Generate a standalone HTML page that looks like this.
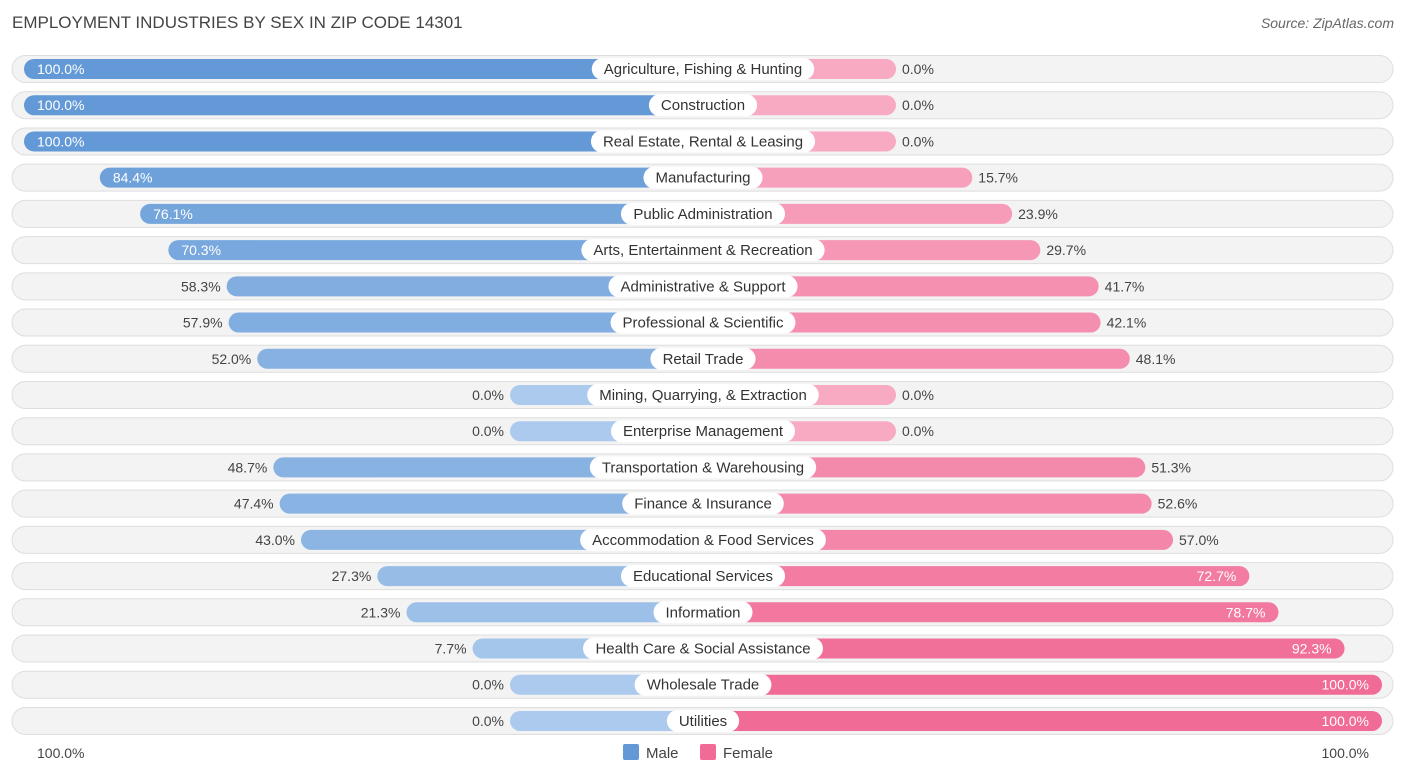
<!DOCTYPE html>
<html><head><meta charset="utf-8"><style>
body{margin:0;background:#fff;font-family:"Liberation Sans",sans-serif;}
svg text{font-family:"Liberation Sans",sans-serif;}
</style></head><body>
<svg id="chart" width="1406" height="776">
<text x="12" y="28" font-size="17" fill="#444">EMPLOYMENT INDUSTRIES BY SEX IN ZIP CODE 14301</text>
<text x="1394" y="28" font-size="14" fill="#666" font-style="italic" text-anchor="end">Source: ZipAtlas.com</text>
<g id="rows"></g>
<text x="37" y="758" font-size="14" fill="#444">100.0%</text>
<text x="1369" y="758" font-size="14" fill="#444" text-anchor="end">100.0%</text>
<rect x="623" y="744" width="16" height="16" rx="2" fill="#6399d6"/>
<text x="646" y="758" font-size="15" fill="#444">Male</text>
<rect x="700" y="744" width="16" height="16" rx="2" fill="#f06b95"/>
<text x="723" y="758" font-size="15" fill="#444">Female</text>
</svg>
<script>
const categories=["Agriculture, Fishing & Hunting","Construction","Real Estate, Rental & Leasing","Manufacturing","Public Administration","Arts, Entertainment & Recreation","Administrative & Support","Professional & Scientific","Retail Trade","Mining, Quarrying, & Extraction","Enterprise Management","Transportation & Warehousing","Finance & Insurance","Accommodation & Food Services","Educational Services","Information","Health Care & Social Assistance","Wholesale Trade","Utilities"];
const maleValues=[100,100,100,84.4,76.1,70.3,58.3,57.9,52.0,0,0,48.7,47.4,43.0,27.3,21.3,7.7,0,0];
const femaleValues=[0,0,0,15.7,23.9,29.7,41.7,42.1,48.1,0,0,51.3,52.6,57.0,72.7,78.7,92.3,100,100];
const NS="http://www.w3.org/2000/svg";
const cx=703, base=193, k=4.86, y0=69, dy=36.22;
function len(v){return base+v*k;}
function rowY(i){return y0+i*dy;}
function mix(a,b,t){return 'rgb('+a.map((x,j)=>Math.round(x+(b[j]-x)*t)).join(',')+')';}
function mk(tag,attrs,parent){const e=document.createElementNS(NS,tag);for(const a in attrs)e.setAttribute(a,attrs[a]);parent.appendChild(e);return e;}
const g=document.getElementById('rows');
const ctx=document.createElement('canvas').getContext('2d');ctx.font='15px "Liberation Sans"';
categories.forEach((c,i)=>{
  const y=rowY(i);
  const bg=mk('rect',{x:12,y:y-13.5,width:1381,height:27,rx:13.5,fill:'#f3f3f3',stroke:'#dedede'},g);
  
  
  const m=maleValues[i], f=femaleValues[i];
  const ml=len(m);
  const mb=mk('rect',{x:cx-ml,y:y-10,width:ml,height:20,rx:10,fill:mix([171,202,237],[99,153,214],m/100)},g);
  
  
  const fl=len(f);
  const fb=mk('rect',{x:cx,y:y-10,width:fl,height:20,rx:10,fill:mix([248,170,195],[240,107,149],f/100)},g);
  
  
  const tw=ctx.measureText(c).width+24;
  const lp=mk('rect',{x:cx-tw/2,y:y-11,width:tw,height:22,rx:11,fill:'#fff'},g);
  
  
  const lt=mk('text',{x:cx,y:y+5,'font-size':15,fill:'#333','text-anchor':'middle'},g);
  lt.textContent=c;
  
  
  const mIn=m>=65;
  const mt=mk('text',{x:mIn?cx-ml+13:cx-ml-6,y:y+5,'font-size':14,fill:mIn?'#fff':'#444','text-anchor':mIn?'start':'end'},g);
  mt.textContent=m.toFixed(1)+'%';
  
  
  const fIn=f>=65;
  const ft=mk('text',{x:fIn?cx+fl-13:cx+fl+6,y:y+5,'font-size':14,fill:fIn?'#fff':'#444','text-anchor':fIn?'end':'start'},g);
  ft.textContent=f.toFixed(1)+'%';
  
  
});
</script>
</body></html>
